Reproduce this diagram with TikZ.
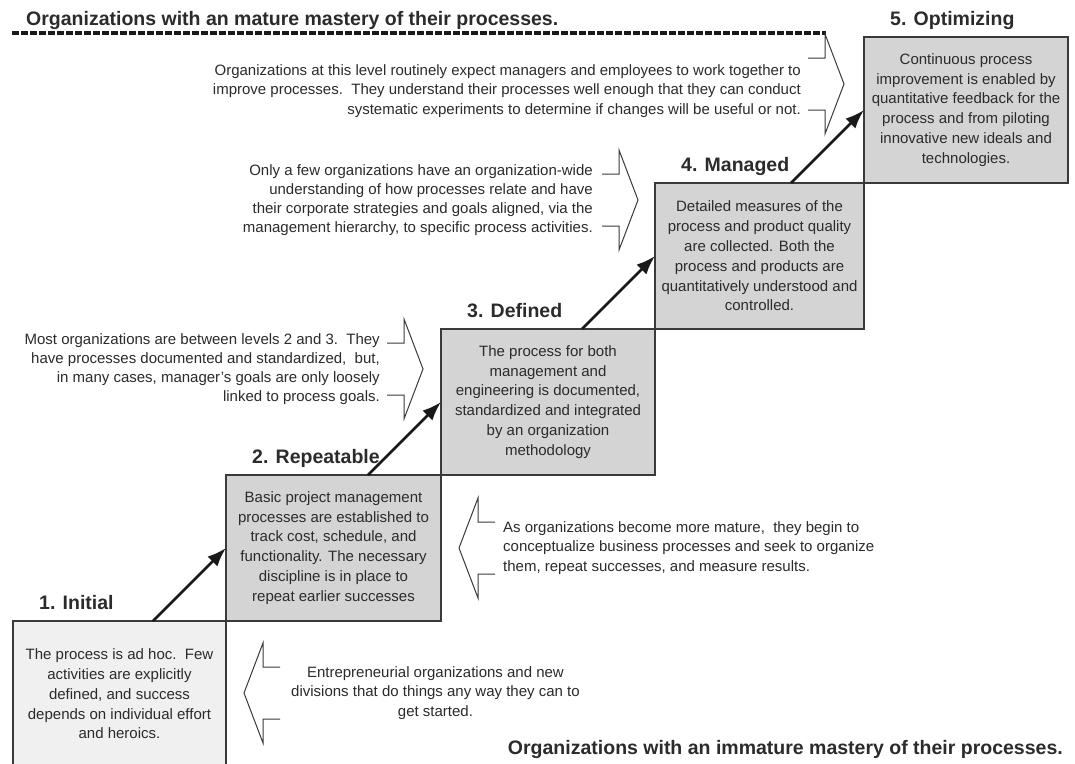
\documentclass[tikz,border=0pt]{standalone}
\usepackage{fontspec}
\setmainfont{Liberation Sans}
\usepackage{tikz}
\usetikzlibrary{positioning, arrows.meta, calc}
\definecolor{ink}{HTML}{2B2B2B}
\definecolor{edge}{HTML}{3A3A3A}
\definecolor{stepgray}{HTML}{D4D4D4}
\definecolor{lowgray}{HTML}{F0F0F0}
\newcommand{\bodysize}{\fontsize{15}{19.8}\selectfont}
\newcommand{\notesize}{\fontsize{15}{19.2}\selectfont}
\newcommand{\headsize}{\fontsize{19.5}{22}\selectfont\bfseries}
% open arrow outlines beside the side notes
\newcommand{\callright}[1]{\draw[callout] #1 ++(0,-26) -- ++(17,0) -- ++(0,-24) -- ++(19,50) -- ++(-19,50) -- ++(0,-24) -- ++(-17,0);}
\newcommand{\callleft}[1]{\draw[callout] #1 ++(0,-26) -- ++(-17,0) -- ++(0,-24) -- ++(-19,50) -- ++(19,50) -- ++(0,-24) -- ++(17,0);}
\tikzset{
  lvl/.style={draw=edge, fill=#1, line width=1.4pt, outer sep=0pt, inner sep=0pt, align=center,
              text=ink, font=\bodysize, minimum height=146pt},
  lvl/.default=stepgray,
  arr/.style={-{Latex[length=19pt, width=14pt]}, line width=2.8pt, draw=black!90},
  note/.style={text=ink, font=\notesize, inner sep=0pt},
  head/.style={font=\headsize, text=ink, inner sep=0pt},
  callout/.style={draw=edge, line width=1pt},
  rule/.style={draw=black!90, line width=3.2pt, dash pattern=on 7pt off 2pt},
}

\begin{document}
\begin{tikzpicture}[x=1pt, y=-1pt]
    \path[use as bounding box, fill=white] (0,0) rectangle (1075,763);
    % titles
    \node[head, anchor=base west] (toptitle) at (26,25) {Organizations with an mature mastery of their processes.};
    \draw[rule] (12,33) -- (826,33);
    \node[head, anchor=base east] (lowtitle) at (1063,754) {Organizations with an immature mastery of their processes.};
    % staircase
    \node[lvl=lowgray, minimum width=213pt, anchor=north west] (initial) at (13,621)
        {The process is ad hoc.\ \ Few\\activities are explicitly\\defined, and success\\depends on individual effort\\and heroics.};
    \node[lvl, minimum width=215pt, anchor=south west] (repeat) at (initial.north east)
        {Basic project management\\processes are established to\\track cost, schedule, and\\functionality. The necessary\\discipline is in place to\\repeat earlier successes};
    \node[lvl, minimum width=214pt, anchor=south west] (defined) at (repeat.north east)
        {The process for both\\management and\\engineering is documented,\\standardized and integrated\\by an organization\\methodology};
    \node[lvl, minimum width=209pt, anchor=south west] (managed) at (defined.north east)
        {Detailed measures of the\\process and product quality\\are collected. Both the\\process and products are\\quantitatively understood and\\controlled.};
    \node[lvl, minimum width=204pt, anchor=south west] (optim) at (managed.north east)
        {Continuous process\\improvement is enabled by\\quantitative feedback for the\\process and from piloting\\innovative new ideals and\\technologies.};
    % level names
    \node[head, anchor=base west] (initlbl) at ($(initial.north west)+(26,-12)$) {1. Initial};
    \node[head, anchor=base west] (replbl)  at ($(repeat.north west)+(26,-12)$)  {2. Repeatable};
    \node[head, anchor=base west] (deflbl)  at ($(defined.north west)+(26,-12)$) {3. Defined};
    \node[head, anchor=base west] (manlbl)  at ($(managed.north west)+(26,-12)$) {4. Managed};
    \node[head, anchor=base west] (optlbl)  at ($(optim.north west)+(26,-12)$)   {5. Optimizing};
    % steps up
    \draw[arr] ($(initial.north east)+(-73,0)$) -- (repeat.west);
    \draw[arr] ($(repeat.north east)+(-73,0)$)  -- (defined.west);
    \draw[arr] ($(defined.north east)+(-73,0)$) -- (managed.west);
    \draw[arr] ($(managed.north east)+(-73,0)$) -- (optim.west);
    % side notes
    \node[note, align=right, anchor=east] (optnote) at (801,91)
        {Organizations at this level routinely expect managers and employees to work together to\\improve processes.\ \ They understand their processes well enough that they can conduct\\systematic experiments to determine if changes will be useful or not.};
    \callright{($(optnote.east)+(7,-7)$)}
    \node[note, align=right, anchor=east] (mannote) at (593,200)
        {Only a few organizations have an organization-wide\\understanding of how processes relate and have\\their corporate strategies and goals aligned, via the\\management hierarchy, to specific process activities.};
    \callright{($(mannote.east)+(9,0)$)}
    \node[note, align=right, anchor=east] (defnote) at (380,369)
        {Most organizations are between levels 2 and 3.\ \ They\\have processes documented and standardized,\ \ but,\\in many cases, manager's goals are only loosely\\linked to process goals.};
    \callright{($(defnote.east)+(7,0)$)}
    \node[note, align=left, anchor=west] (repnote) at (503,548)
        {As organizations become more mature,\ \ they begin to\\conceptualize business processes and seek to organize\\them, repeat successes, and measure results.};
    \callleft{($(repnote.west)+(-8,0)$)}
    \node[note, align=center, anchor=west] (initnote) at (291,693)
        {Entrepreneurial organizations and new\\divisions that do things any way they can to\\get started.};
    \callleft{($(initnote.west)+(-11,0)$)}
\end{tikzpicture}
\end{document}
